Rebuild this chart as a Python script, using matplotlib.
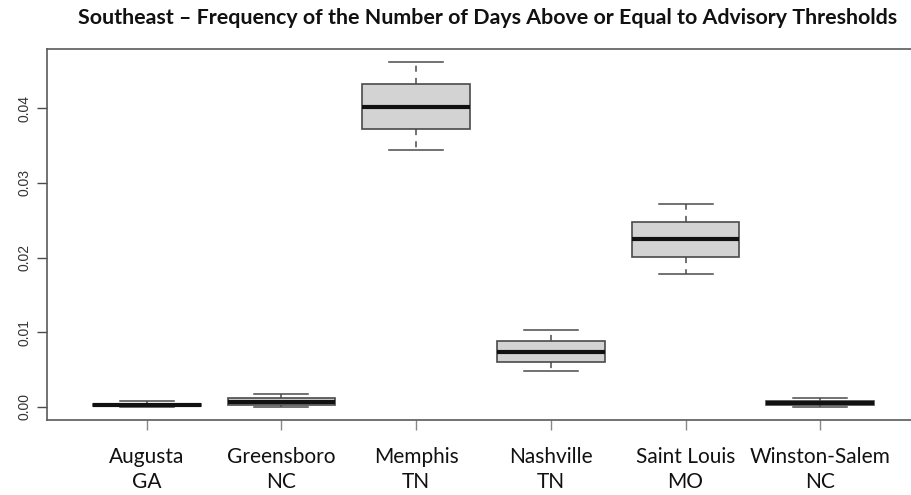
import matplotlib
matplotlib.use("Agg")
import matplotlib.pyplot as plt

cities = ["Augusta\nGA", "Greensboro\nNC", "Memphis\nTN", "Nashville\nTN", "Saint Louis\nMO", "Winston-Salem\nNC"]
whislo = [0.0000, 0.0000, 0.03441, 0.00479, 0.01779, 0.0000]
q1     = [0.00005, 0.00027, 0.03727, 0.00595, 0.02011, 0.00023]
med    = [0.00023, 0.00067, 0.04018, 0.00737, 0.02244, 0.00054]
q3     = [0.00040, 0.00120, 0.04322, 0.00881, 0.02480, 0.00080]
whishi = [0.00076, 0.00170, 0.04617, 0.01028, 0.02721, 0.00120]
yticks = [0.00, 0.01, 0.02, 0.03, 0.04]
ytick_labels = ["0.00", "0.01", "0.02", "0.03", "0.04"]
title = "Southeast \u2013 Frequency of the Number of Days Above or Equal to Advisory Thresholds"

W, H = 912, 495
fig = plt.figure(figsize=(W / 100, H / 100), dpi=100)
left, right, top, bottom = 47, 920, 49, 420
ax = fig.add_axes([left / W, 1 - bottom / H, (right - left) / W, (bottom - top) / H])

stats = []
for i in range(len(cities)):
    stats.append(dict(whislo=whislo[i], q1=q1[i], med=med[i], q3=q3[i], whishi=whishi[i], fliers=[]))

edge = "#4a4a4a"
ax.bxp(stats, positions=range(1, len(cities) + 1), widths=0.8, patch_artist=True,
       showfliers=False,
       boxprops=dict(facecolor="#d3d3d3", edgecolor=edge, linewidth=1.2),
       medianprops=dict(color="#111111", linewidth=3, solid_capstyle="butt"),
       whiskerprops=dict(color=edge, linewidth=1.1, linestyle=(0, (4, 4))),
       capprops=dict(color=edge, linewidth=1.1),
       capwidths=0.4)

ax.set_xlim(0.26, 6.74)
ax.set_ylim(-0.00178, 0.04795)
ax.set_yticks(yticks)
ax.set_yticklabels(ytick_labels, rotation=90, va="center", fontsize=10,
                   family="Liberation Sans", color="#333333")
ax.set_xticks(range(1, len(cities) + 1))
ax.set_xticklabels(cities, fontsize=15, family="Lato", linespacing=1.35, color="#111111")
ax.tick_params(axis="y", length=7.2, width=1, color=edge, pad=4)
ax.tick_params(axis="x", length=7.2, width=1, color="#888888", pad=12)
for name, s in ax.spines.items():
    s.set_color("#5a5a5a")
    s.set_linewidth(1.2)
ax.spines["right"].set_visible(False)

fig.text(78 / W, 1 - 18 / H, title, fontsize=15.4, fontweight="bold", family="Lato",
         ha="left", va="center", color="#111111")

fig.savefig("out.png", dpi=100)
